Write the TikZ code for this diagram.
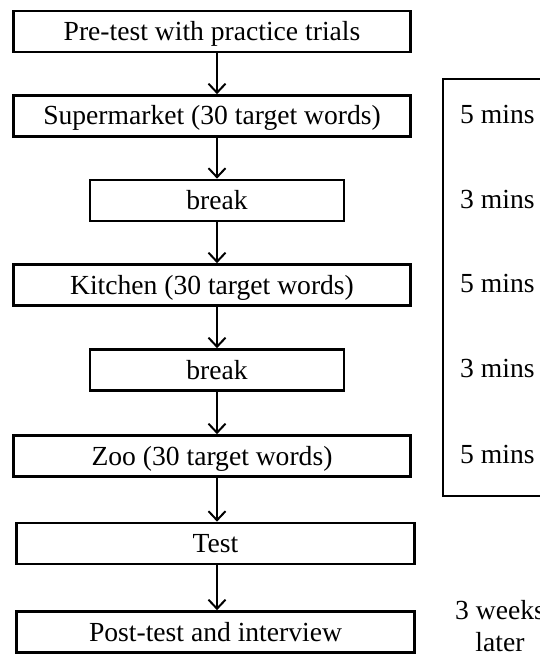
\documentclass[tikz,border=0pt]{standalone}
\usepackage{fontspec}
\setmainfont{Liberation Serif}
\usetikzlibrary{arrows.meta}
\begin{document}
\begin{tikzpicture}[x=1pt,y=-1pt,
  stepbox/.style={draw, line width=2.7pt, minimum height=41pt, inner sep=0pt,
    text height=20pt, text depth=2pt,
    font=\fontsize{27.6}{32}\selectfont},
  wide/.style={stepbox, minimum width=397pt},
  narrow/.style={stepbox, minimum width=254pt},
  flow/.style={line width=2pt, -{Straight Barb[length=9pt,width=17pt,line width=2pt]}},
  lbl/.style={font=\fontsize{27.6}{32}\selectfont, inner sep=0pt},
  frame/.style={line width=2.4pt}]
\useasboundingbox (0,0) rectangle (540,655);
\clip (0,0) rectangle (540,655);
\fill[white] (0,0) rectangle (540,655);

\node[wide] (pre) at (212,31.5) {Pre-test with practice trials};
\node[wide] (sup) at (212,116) {Supermarket (30 target words)};
\node[narrow] (br1) at (217,200.5) {break};
\node[wide] (kit) at (212,285) {Kitchen (30 target words)};
\node[narrow] (br2) at (217,370) {break};
\node[wide] (zoo) at (212,456) {Zoo (30 target words)};
\node[stepbox, minimum width=398pt] (test) at (215.5,543.5) {Test};
\node[stepbox, minimum width=398pt] (post) at (215.5,632) {Post-test and interview};

\draw[flow] (pre.south -| br1) -- (sup.north -| br1);
\draw[flow] (sup.south -| br1) -- (br1.north);
\draw[flow] (br1.south) -- (kit.north -| br1);
\draw[flow] (kit.south -| br1) -- (br2.north);
\draw[flow] (br2.south) -- (zoo.north -| br1);
\draw[flow] (zoo.south -| br1) -- (test.north -| br1);
\draw[flow] (test.south -| br1) -- (post.north -| br1);

\coordinate (ftop) at (560,79);
\coordinate (fbot) at (560,496);
\draw[frame] (ftop) -| (443,496) -- (fbot);

\node[lbl, anchor=base west] (m1) at (460,123.5) {5 mins};
\node[lbl, anchor=base west] (m2) at (460,208) {3 mins};
\node[lbl, anchor=base west] (m3) at (460,292.5) {5 mins};
\node[lbl, anchor=base west] (m4) at (460,377.5) {3 mins};
\node[lbl, anchor=base west] (m5) at (460,463.5) {5 mins};
\node[lbl, align=center] (wk) at (500,626) {3 weeks\\later};
\end{tikzpicture}
\end{document}
